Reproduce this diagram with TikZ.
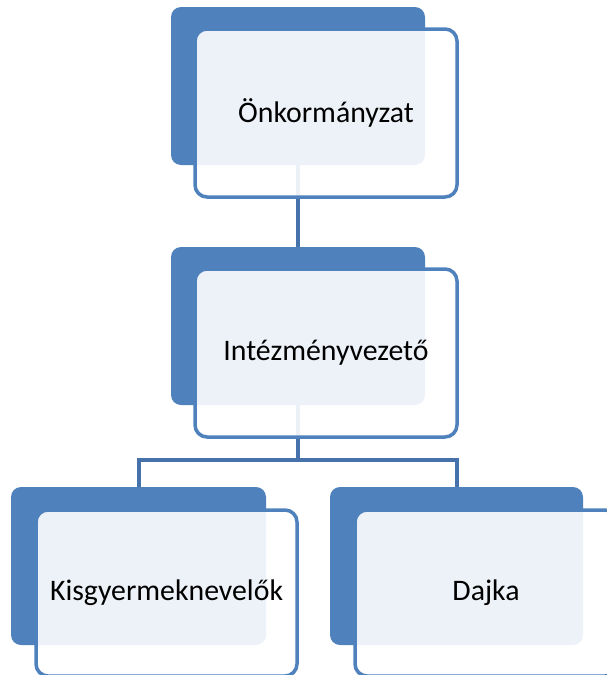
\documentclass[tikz,border=0pt]{standalone}
\usepackage{fontspec}
\setmainfont{Carlito}
\definecolor{acc}{HTML}{4F81BD}
\definecolor{conn}{HTML}{4672AC}
\tikzset{
  backbox/.style={fill=acc, draw=none, rounded corners=10pt},
  frontbox/.style={fill=white, fill opacity=0.9, draw=acc, draw opacity=1, line width=3.5pt, rounded corners=12pt, text opacity=1},
  connector/.style={draw=conn, line width=4pt},
  lbl/.style={font=\fontsize{29.8}{34}\selectfont, text=black}
}
\begin{document}
\begin{tikzpicture}[x=1pt,y=-1pt]
\useasboundingbox (0,0) rectangle (606,675);
% back boxes
\path[backbox] (171,7) rectangle (425,165);
\coordinate (b1) at (298,165);
\path[backbox] (171,247) rectangle (425,405);
\coordinate (b2t) at (298,247);
\coordinate (b2) at (298,405);
\path[backbox] (11,487) rectangle (266,645);
\coordinate (b3t) at (138.5,487);
\path[backbox] (330,487) rectangle (583,645);
\coordinate (b4t) at (456.5,487);
% connectors
\coordinate (bar) at (298,460);
\draw[connector] (b1) -- (b2t);
\draw[connector] (b2) -- (bar);
\draw[connector] (b3t) |- (bar) -| (b4t);
% front boxes
\path[frontbox] (195,29) rectangle (457,197);
\path[frontbox] (195,269) rectangle (457,437);
\path[frontbox] (36,510) rectangle (297,676);
\path[frontbox] (355,510) rectangle (617,676);
% labels
\node[lbl] (n1) at (326,113) {Önkormányzat};
\node[lbl] (n2) at (326,353) {Intézményvezető};
\node[lbl] (n3) at (166.5,593) {Kisgyermeknevelők};
\node[lbl] (n4) at (486,593) {Dajka};
\end{tikzpicture}
\end{document}
